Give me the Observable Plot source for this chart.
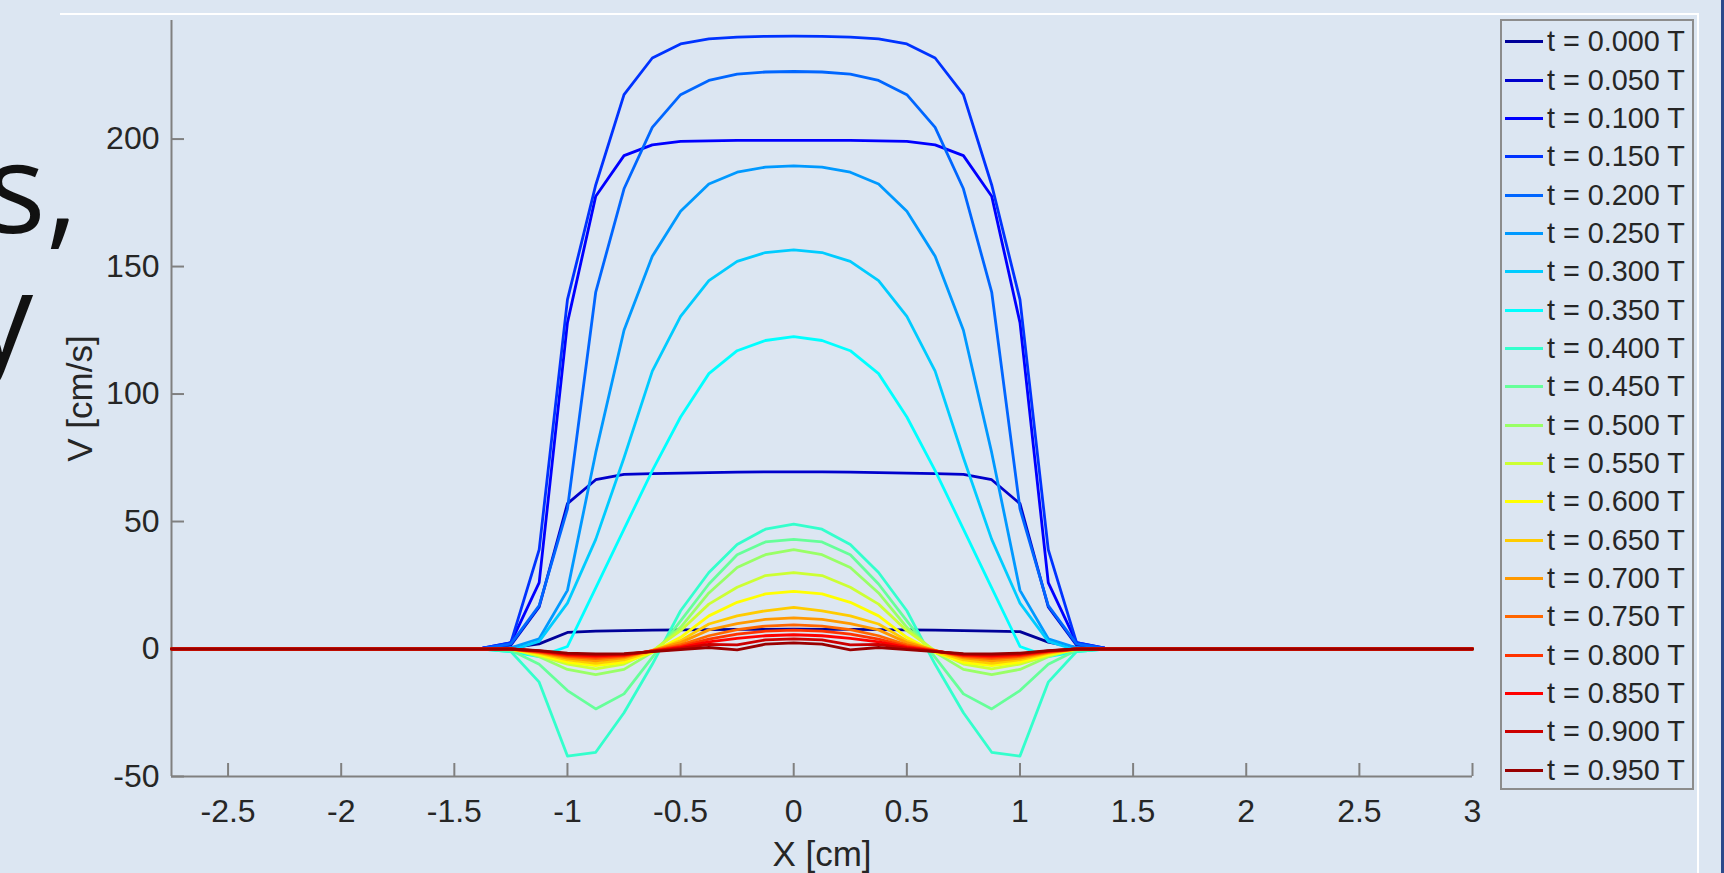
<!DOCTYPE html>
<html>
<head>
<meta charset="utf-8">
<script src="https://cdn.jsdelivr.net/npm/d3@7"></script>
<script src="https://cdn.jsdelivr.net/npm/@observablehq/plot@0.6"></script>
<style>
  html, body { margin: 0; padding: 0; }
  body { width: 1724px; height: 873px; overflow: hidden; position: relative; background: #dce6f2; font-family: "Liberation Sans", Arial, sans-serif; }
  .bgtext { position: absolute; font-family: "Open Sans", sans-serif; font-size: 125px; line-height: 128px; height: 128px; color: #111; white-space: nowrap; text-align: right; }
  #bg1 { right: 1646px; top: 121px; }
  #bg2 { right: 1691px; top: 250px; }
  #chart { position: absolute; left: 0; top: 0; }
  #frameTop { position: absolute; left: 60px; top: 13px; width: 1639px; height: 2px; background: #ffffff; }
  #frameRight { position: absolute; left: 1697px; top: 13px; width: 2px; height: 860px; background: #ffffff; }
  #edge { position: absolute; left: 1721px; top: 0; width: 3px; height: 873px; background: #2b4a8b; }
  #legend { position: absolute; left: 1500px; top: 19px; width: 194px; height: 771px; box-sizing: border-box; border: 2px solid #8c8c8c; padding-top: 1.5px; }
  .item { display: flex; align-items: center; height: 38.35px; }
  .sw { width: 38px; height: 3px; margin-left: 3px; }
  .lab { margin-left: 4px; font-size: 28.8px; color: #262626; white-space: nowrap; }
</style>
</head>
<body>
<div class="bgtext" id="bg1">s,</div>
<div class="bgtext" id="bg2">y</div>
<div id="frameTop"></div>
<div id="frameRight"></div>
<div id="edge"></div>
<div id="chart"></div>
<div id="legend"></div>
<script>
// ---- data ----
const xs = [-2.75, -1.375, -1.25, -1.125, -1, -0.875, -0.75, -0.625, -0.5, -0.375, -0.25, -0.125, 0,
            0.125, 0.25, 0.375, 0.5, 0.625, 0.75, 0.875, 1, 1.125, 1.25, 1.375, 3];

const tLabels = ["t = 0.000 T","t = 0.050 T","t = 0.100 T","t = 0.150 T","t = 0.200 T",
                 "t = 0.250 T","t = 0.300 T","t = 0.350 T","t = 0.400 T","t = 0.450 T",
                 "t = 0.500 T","t = 0.550 T","t = 0.600 T","t = 0.650 T","t = 0.700 T",
                 "t = 0.750 T","t = 0.800 T","t = 0.850 T","t = 0.900 T","t = 0.950 T"];

const colors = ["#000099","#0000cc","#0000ff","#0033ff","#0066ff","#0099ff","#00ccff","#00ffff",
                "#33ffcc","#66ff99","#99ff66","#ccff33","#ffff00","#ffcc00","#ff9900","#ff6600",
                "#ff3300","#ff0000","#cc0000","#990000"];

const V000 = [0,0,0.5,2,6.5,7,7.2,7.4,7.5,7.6,7.7,7.7,7.8, 7.7,7.7,7.6,7.5,7.4,7.2,7,6.8,2.7,0.5,0,0];
const V050 = [0,0.3,1.5,16.5,57,66.4,68.5,68.8,69,69.2,69.4,69.5,69.5, 69.5,69.4,69.2,69,68.8,68.5,66.4,57,16.5,1.5,0.3,0];
const V100 = [0,0.3,2.5,26,128,177.6,193.5,197.7,199.1,199.3,199.5,199.5,199.5, 199.5,199.5,199.3,199.1,197.7,193.5,177.6,128,26,2.5,0.3,0];
const V150 = [0,0.3,2.5,39,137,182,217.4,231.8,237.3,239.3,240,240.3,240.4, 240.3,240,239.3,237.3,231.8,217.4,182,137,39,2.5,0.3,0];
const V200 = [0,0.2,2,17,55,140,180.5,204.6,217.4,223,225.5,226.3,226.5, 226.3,225.5,223,217.4,204.6,180.5,140,55,17,2,0.2,0];
const V250 = [0,0,0.5,4,23,77,125,154,171.7,182.4,187,189,189.5, 189,187,182.4,171.7,154,125,77,23,4,0.5,0,0];
const V300 = [0,0,-0.5,3,18,43,75,109,130.5,144.5,152,155.5,156.5, 155.5,152,144.5,130.5,109,75,43,18,3,-0.5,0,0];
const V350 = [0,0,-1,-3,1,24,47,70,91,108,117,121,122.5, 121,117,108,91,70,47,24,1,-3,-1,0,0];
const V400 = [0,0,-1,-13,-42,-40.5,-25,-6,15,30,41,47,49, 47,41,30,15,-6,-25,-40.5,-42,-13,-1,0,0];
const V450 = [0,0,-0.5,-6,-16.3,-23.5,-17.6,-3.3,11,25.5,37,42,43, 42,37,25.5,11,-3.3,-17.6,-23.5,-16.3,-6,-0.5,0,0];
const V500 = [0,0,0,-3,-8,-10,-8,-1.3,8.5,22,32,37,39, 37,32,22,8.5,-1.3,-8,-10,-8,-3,0,0,0];
const V550 = [0,0,0,-2.6,-5.9,-7.8,-5.9,-0.7,7.2,17.6,24.2,28.8,30, 28.8,24.2,17.6,7.2,-0.7,-5.9,-7.8,-5.9,-2.6,0,0,0];
const V600 = [0,0,0,-2.2,-5.2,-6.5,-5.2,-1.3,4.6,13,18.3,21.6,22.6, 21.6,18.3,13,4.6,-1.3,-5.2,-6.5,-5.2,-2.2,0,0,0];
const V650 = [0,0,0,-1.7,-4.3,-5.6,-4.3,-0.9,3.3,9.8,13,15,16.3, 15,13,9.8,3.3,-0.9,-4.3,-5.6,-4.3,-1.7,0,0,0];
const V700 = [0,0,0,-1.4,-3.6,-4.6,-3.5,-0.5,2.5,7.5,10,11.6,12.2, 11.6,10,7.5,2.5,-0.5,-3.5,-4.6,-3.6,-1.4,0,0,0];
const V750 = [0,0,0,-1.2,-3,-3.8,-3,-0.6,1.6,5.2,7.6,9,9.5, 9,7.6,5.2,1.6,-0.6,-3,-3.8,-3,-1.2,0,0,0];
const V800 = [0,0,0,-1,-2.6,-3.2,-2.6,-0.7,1,3.9,5.8,7,7.4, 7,5.8,3.9,1,-0.7,-2.6,-3.2,-2.6,-1,0,0,0];
const V850 = [0,0,0,-0.8,-2.2,-2.7,-2.3,-0.8,0.6,2.8,4.2,5.2,5.6, 5.2,4.2,2.8,0.6,-0.8,-2.3,-2.7,-2.2,-0.8,0,0,0];
const V900 = [0,0,0,-0.7,-1.9,-2.3,-2.1,-0.9,0.2,1.8,1.6,3.6,4, 3.6,1.6,1.8,0.2,-0.9,-2.1,-2.3,-1.9,-0.7,0,0,0];
const V950 = [0,0,0,-0.6,-1.6,-1.9,-1.8,-1,-0.2,0.6,-0.3,1.9,2.4, 1.9,-0.3,0.6,-0.2,-1,-1.8,-1.9,-1.6,-0.6,0,0,0];

const seriesValues = [V000,V050,V100,V150,V200,V250,V300,V350,V400,V450,
                      V500,V550,V600,V650,V700,V750,V800,V850,V900,V950];

const xTicks = [-2.5, -2, -1.5, -1, -0.5, 0, 0.5, 1, 1.5, 2, 2.5, 3];
const yTicks = [-50, 0, 50, 100, 150, 200];
const xDomain = [-2.75, 3];
const yDomain = [-50, 246.5];
const xLabel = "X [cm]";
const yLabel = "V [cm/s]";

// ---- build ----
const rows = [];
seriesValues.forEach((vals, i) => vals.forEach((v, j) => rows.push({x: xs[j], v, t: tLabels[i]})));

const axisColor = "#808080";
const textColor = "#262626";
const fmt = d => String(d);

const chart = Plot.plot({
  width: 1724,
  height: 873,
  marginLeft: 171,
  marginRight: 252,
  marginTop: 20,
  marginBottom: 97,
  style: {background: "transparent", fontFamily: "'Liberation Sans', Arial, sans-serif", overflow: "visible"},
  x: {domain: xDomain},
  y: {domain: yDomain},
  color: {domain: tLabels, range: colors},
  marks: [
    Plot.ruleY([yDomain[0]], {stroke: axisColor, strokeWidth: 2}),
    Plot.ruleX([xDomain[0]], {stroke: axisColor, strokeWidth: 2}),
    Plot.axisX(xTicks, {anchor: "bottom", tickSize: -13, tickFormat: () => "", stroke: axisColor, strokeWidth: 2, label: null}),
    Plot.axisY(yTicks, {anchor: "left", tickSize: -13, tickFormat: () => "", stroke: axisColor, strokeWidth: 2, label: null}),
    Plot.axisX(xTicks, {anchor: "bottom", tickSize: 0, tickPadding: 23, tickFormat: fmt, fontSize: 32, fill: textColor, label: null}),
    Plot.axisY(yTicks, {anchor: "left", tickSize: 0, tickPadding: 12, tickFormat: fmt, fontSize: 32, fill: textColor, label: null}),
    Plot.text([xLabel], {frameAnchor: "bottom", dy: 78, lineAnchor: "middle", textAnchor: "middle", fontSize: 35, fill: textColor}),
    Plot.text([yLabel], {frameAnchor: "left", dx: -91, rotate: -90, lineAnchor: "middle", textAnchor: "middle", fontSize: 35, fill: textColor}),
    Plot.line(rows, {x: "x", y: "v", z: "t", stroke: "t", strokeWidth: 2.8, strokeLinejoin: "round"})
  ]
});
document.getElementById("chart").appendChild(chart);

// ---- legend ----
const legend = document.getElementById("legend");
tLabels.forEach((lab, i) => {
  const item = document.createElement("div");
  item.className = "item";
  const sw = document.createElement("div");
  sw.className = "sw";
  sw.style.background = colors[i];
  const tx = document.createElement("span");
  tx.className = "lab";
  tx.textContent = lab;
  item.appendChild(sw);
  item.appendChild(tx);
  legend.appendChild(item);
});
</script>
</body>
</html>
